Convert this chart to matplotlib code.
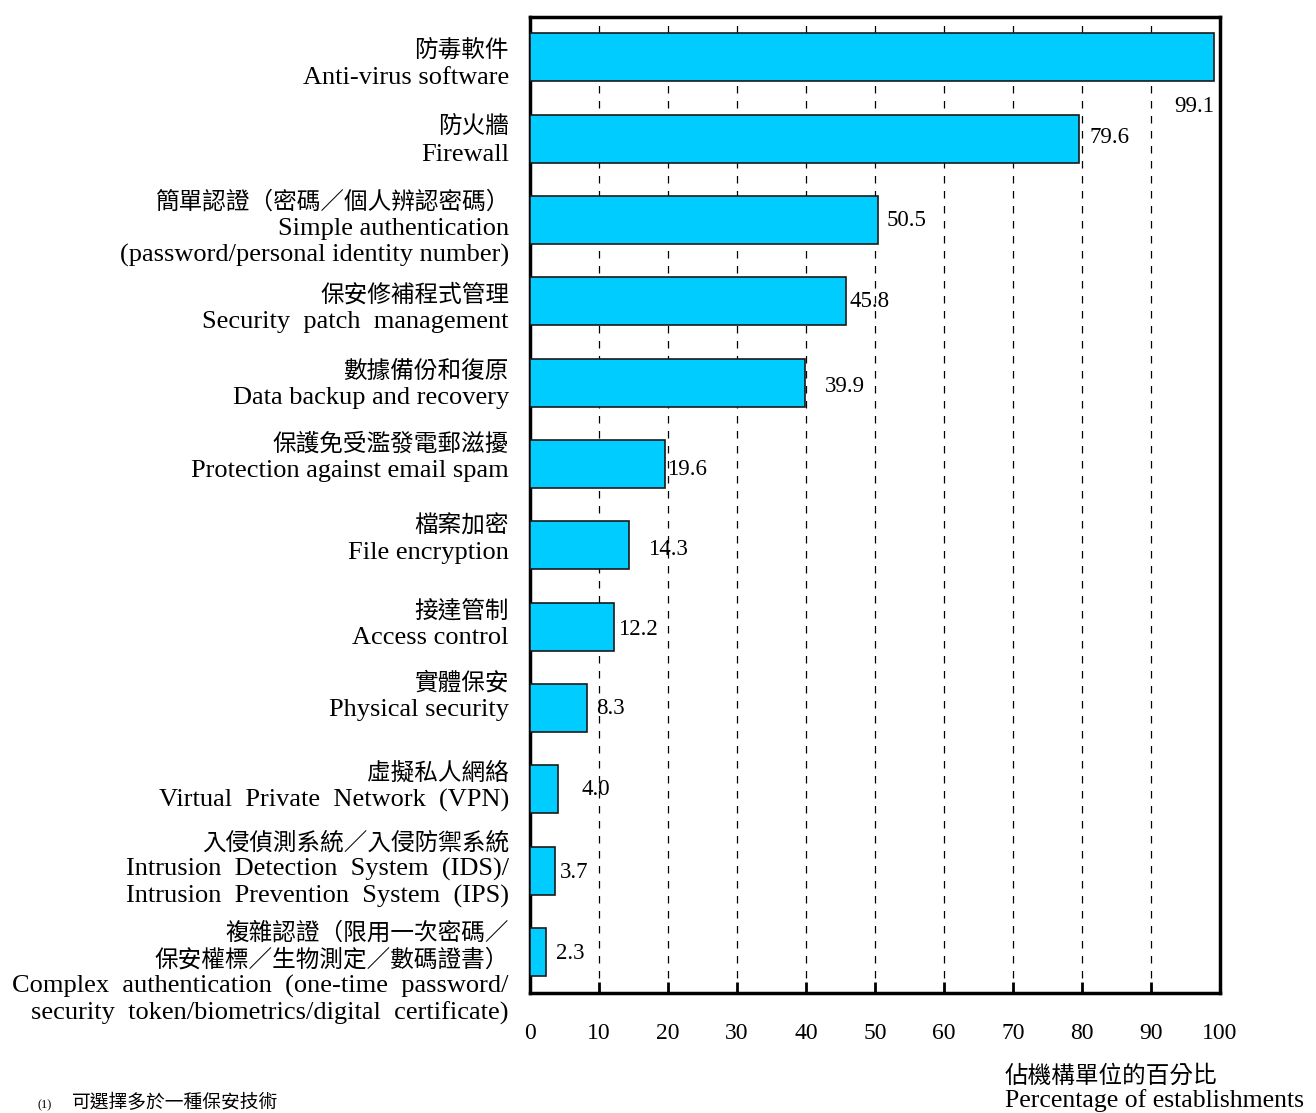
import matplotlib
matplotlib.use("Agg")
import matplotlib.pyplot as plt
import matplotlib.transforms as mtransforms

# data, top to bottom
labels_zh = [
    "防毒軟件",
    "防火牆",
    "簡單認證（密碼／個人辨認密碼）",
    "保安修補程式管理",
    "數據備份和復原",
    "保護免受濫發電郵滋擾",
    "檔案加密",
    "接達管制",
    "實體保安",
    "虛擬私人網絡",
    "入侵偵測系統／入侵防禦系統",
    "複雜認證（限用一次密碼／\n保安權標／生物測定／數碼證書）",
]
labels_en = [
    "Anti-virus software",
    "Firewall",
    "Simple authentication\n(password/personal identity number)",
    "Security  patch  management",
    "Data backup and recovery",
    "Protection against email spam",
    "File encryption",
    "Access control",
    "Physical security",
    "Virtual  Private  Network  (VPN)",
    "Intrusion  Detection  System  (IDS)/\nIntrusion  Prevention  System  (IPS)",
    "Complex  authentication  (one-time  password/\nsecurity  token/biometrics/digital  certificate)",
]
values = [99.1, 79.6, 50.5, 45.8, 39.9, 19.6, 14.3, 12.2, 8.3, 4.0, 3.7, 2.3]
xticks = [0, 10, 20, 30, 40, 50, 60, 70, 80, 90, 100]
xlabel_zh = "佔機構單位的百分比"
xlabel_en = "Percentage of establishments"
note_mark = "(1)"
note_text = "可選擇多於一種保安技術"

# placement of the value labels (left edge, relative to bar end / bar centre)
label_dx = [-5.8, 1.5, 1.2, 0.5, 2.9, 0.3, 2.8, 0.5, 1.3, 3.5, 0.6, 1.5]
label_dy = [0.60, -0.02, 0.0, 0.0, 0.045, 0.065, 0.047, 0.035, 0.0, 0.0, 0.02, 0.02]
# shift of each category label block, in pixels (down is positive)
block_shift = [4, 0, 6, 4, -1, -9, -8.5, -5, -14, -5.5, -4, 18.5]
LINE_PITCH = 26.5

SERIF = ["Liberation Serif", "Noto Sans CJK TC"]
CJK = ["Noto Sans CJK TC", "Liberation Serif"]
BAR_COLOR = "#00CCFF"

fig = plt.figure(figsize=(13.16, 11.13), dpi=100)
ax = fig.add_axes([0.4027, 0.1081, 0.5244, 0.8769])

pos = list(range(len(values)))
ax.barh(pos, values, height=0.59, color=BAR_COLOR, edgecolor="#1a1a1a", linewidth=1.2, zorder=3)

for i, v in enumerate(values):
    ax.text(v + label_dx[i], i + label_dy[i], f"{v:.1f}", ha="left", va="center",
            fontsize=16.5, family=SERIF, zorder=4)

ax.set_xlim(0, 100)
ax.set_ylim(11.5, -0.5)

for x in xticks[1:-1]:
    ax.axvline(x, color="black", linestyle=(0, (6, 6)), linewidth=0.9, zorder=1)

ax.set_xticks(xticks)
ax.set_xticklabels([str(t) for t in xticks], fontsize=17, family=SERIF)
ax.tick_params(axis="x", direction="in", length=8, width=2, pad=22)
ax.set_yticks([])

# category labels: one text per line, Chinese in sans, English in serif
ytrans = ax.get_yaxis_transform()
for i in pos:
    lines = [(s, "zh") for s in labels_zh[i].split("\n")] + [(s, "en") for s in labels_en[i].split("\n")]
    n = len(lines)
    for k, (s, kind) in enumerate(lines):
        centre = block_shift[i] + (k - (n - 1) / 2) * LINE_PITCH
        baseline = centre + 9
        tr = mtransforms.offset_copy(ytrans, fig=fig, x=-21, y=-baseline, units="dots")
        if kind == "zh":
            ax.text(0, i, s, transform=tr, ha="right", va="baseline", fontsize=17, family=CJK)
        else:
            ax.text(0, i, s, transform=tr, ha="right", va="baseline", fontsize=19, family=SERIF)

for s in ax.spines.values():
    s.set_linewidth(2.5)
    s.set_color("black")

fig.text(1005 / 1316, 1 - 1083 / 1113, xlabel_zh, ha="left", va="baseline", fontsize=17, family=CJK)
fig.text(1005 / 1316, 1 - 1107 / 1113, xlabel_en, ha="left", va="baseline", fontsize=18.5, family=SERIF)

fig.text(37 / 1316, 1 - 1099 / 1113, note_mark, ha="left", va="top", fontsize=9, family=SERIF)
fig.text(72 / 1316, 1 - 1092 / 1113, note_text, ha="left", va="top", fontsize=13.5, family=CJK)

fig.savefig("out.png", dpi=100)
